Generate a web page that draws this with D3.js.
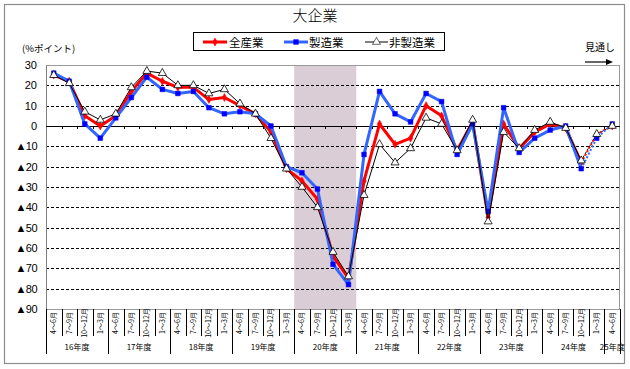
<!DOCTYPE html>
<html><head><meta charset="utf-8">
<script src="https://cdn.jsdelivr.net/npm/d3@7"></script>
<style>
body{margin:0;background:#fff;}
svg{display:block;}
text{font-family:"Liberation Sans",Arial,sans-serif;}
.jp{font-family:"Noto Sans CJK JP","Noto Sans",sans-serif;}
</style></head><body>
<svg id="chart" width="630" height="369"></svg>
<script>
const years = ["16年度","17年度","18年度","19年度","20年度","21年度","22年度","23年度","24年度","25年度"];
const quarters = ["4～6月","7～9月","10～12月","1～3月"];
const yTicks = [30,20,10,0,-10,-20,-30,-40,-50,-60,-70,-80,-90];
const allInd = [25,22,5,0,5,17,26,22,19,19,13,14,10,6,-3,-21,-27,-36,-64,-75,-27,1,-9,-6,10,5,-12,2,-45,1,-11,-3,1,-1,-18,-4,0];
const mfg    = [26,22,1,-6,4,14,24,18,16,17,9,6,7,6,0,-20,-23,-31,-68,-78,-14,17,6,2,16,12,-14,1,-42,9,-13,-6,-2,0,-21,-6,1];
const nonMfg = [25,21,7,3,6,19,27,26,20,20,16,18,11,6,-6,-21,-30,-40,-62,-74,-34,-9,-18,-11,4,1,-12,3,-47,-3,-11,-2,2,-1,-17,-4,0];
const forecastStart = 34; // segments after this index are forecast (dashed)
const shadedYear = "20年度";

const cats = [];
years.forEach((y,i)=>{
  const n = (i===years.length-1)?1:4;
  for(let q=0;q<n;q++) cats.push({year:y, q:quarters[q], id:y+"|"+quarters[q]});
});

const svg = d3.select("#chart");
const L=46,R=620,T=65,B=309;
const x = d3.scaleBand().domain(cats.map(c=>c.id)).range([L,R]).paddingInner(0).paddingOuter(0);
const y = d3.scaleLinear().domain([-90,30]).range([B,T]);
const cx = id => x(id)+x.bandwidth()/2;

// outer frame
svg.append("rect").attr("x",4.5).attr("y",4.5).attr("width",620).attr("height",359)
  .attr("fill","none").attr("stroke","#8c8c8c").attr("stroke-width",1.2);

// shaded region
const sh = cats.filter(c=>c.year===shadedYear);
svg.append("rect").attr("x",x(sh[0].id)).attr("y",T)
  .attr("width",x(sh[sh.length-1].id)+x.bandwidth()-x(sh[0].id)).attr("height",B-T)
  .attr("fill","#dbcdd6");

// gridlines
yTicks.filter(v=>v!==30 && v!==-90 && v!==0).forEach(v=>{
  svg.append("line").attr("x1",L).attr("x2",R).attr("y1",Math.round(y(v))+0.5).attr("y2",Math.round(y(v))+0.5)
    .attr("stroke","#000").attr("stroke-width",1).attr("stroke-dasharray","3,2");
});
// plot frame
svg.append("rect").attr("x",L+0.5).attr("y",T+0.5).attr("width",R-L-1).attr("height",B-T)
  .attr("fill","none").attr("stroke","#9a9a9a").attr("stroke-width",1);
svg.append("line").attr("x1",L+0.5).attr("x2",L+0.5).attr("y1",T).attr("y2",B).attr("stroke","#808080");
// zero line
svg.append("line").attr("x1",L).attr("x2",R).attr("y1",Math.round(y(0))+0.5).attr("y2",Math.round(y(0))+0.5)
  .attr("stroke","#000").attr("stroke-width",1.2);
// zero line ticks
cats.forEach((c,i)=>{ if(i===0) return;
  svg.append("line").attr("x1",Math.round(x(c.id))+0.5).attr("x2",Math.round(x(c.id))+0.5)
    .attr("y1",y(0)).attr("y2",y(0)+3).attr("stroke","#000").attr("stroke-width",1);
});

// y labels
const yAxis = svg.append("g");
yTicks.forEach(v=>{
  yAxis.append("text").attr("x",37).attr("y",y(v)+4).attr("text-anchor","end")
    .attr("font-size",11).attr("fill","#000").attr("letter-spacing",v<0?-0.5:0)
    .text(v<0 ? "▲"+(-v) : String(v));
});

// x label table
const yearStarts = new Set();
cats.forEach((c,i)=>{ if(i===0 || cats[i-1].year!==c.year) yearStarts.add(i); });
cats.forEach((c,i)=>{
  const xx = Math.round(x(c.id))+0.5;
  const long = yearStarts.has(i);
  svg.append("line").attr("x1",xx).attr("x2",xx).attr("y1",B).attr("y2",long?354:336)
    .attr("stroke","#000").attr("stroke-width",1);
  svg.append("text").attr("class","jp").attr("transform",`translate(${cx(c.id)+2.5},323) rotate(-90)`)
    .attr("text-anchor","middle").attr("font-size",7).attr("fill","#000").text(c.q);
});
svg.append("line").attr("x1",R+0.5).attr("x2",R+0.5).attr("y1",B).attr("y2",354).attr("stroke","#000");
years.forEach(yr=>{
  const cs = cats.filter(c=>c.year===yr);
  const mid = (x(cs[0].id)+x(cs[cs.length-1].id)+x.bandwidth())/2;
  svg.append("text").attr("class","jp").attr("x",mid).attr("y",350).attr("text-anchor","middle")
    .attr("font-size",8).attr("fill","#000").text(yr);
});

// series
const series = [
  {name:"全産業", vals:allInd, color:"#ff0000", width:3, marker:"diamond", mfill:"#ff0000", mstroke:"#ff0000", msize:18},
  {name:"製造業", vals:mfg, color:"#3366ff", width:3, marker:"square", mfill:"#0000ff", mstroke:"#0000ff", msize:22},
  {name:"非製造業", vals:nonMfg, color:"#000000", width:1, marker:"triangle", mfill:"#ffffff", mstroke:"#000000", msize:28}
];
const symType = {diamond:d3.symbolDiamond, square:d3.symbolSquare, triangle:d3.symbolTriangle};
series.forEach(s=>{
  const pts = s.vals.map((v,i)=>[cx(cats[i].id), y(v)]);
  const solid = pts.slice(0,forecastStart+1);
  const dash = pts.slice(forecastStart);
  svg.append("path").attr("d",d3.line()(solid)).attr("fill","none").attr("stroke",s.color)
    .attr("stroke-width",s.width).attr("stroke-linejoin","round");
  svg.append("path").attr("d",d3.line()(dash)).attr("fill","none").attr("stroke",s.color)
    .attr("stroke-width",Math.max(1,s.width-1)).attr("stroke-dasharray","2,2");
  pts.forEach(p=>{
    svg.append("path").attr("d",d3.symbol().type(symType[s.marker]).size(s.msize)())
      .attr("transform",`translate(${p[0]},${p[1]})`)
      .attr("fill",s.mfill).attr("stroke",s.mstroke).attr("stroke-width",s.marker==="triangle"?0.8:0.5);
  });
});

// title
svg.append("text").attr("class","jp").attr("x",315).attr("y",21).attr("text-anchor","middle")
  .attr("font-size",15).attr("font-weight",300).attr("fill","#000").text("大企業");

// legend
svg.append("rect").attr("x",193.5).attr("y",32.5).attr("width",251).attr("height",18)
  .attr("fill","#fff").attr("stroke","#000").attr("stroke-width",1);
const lg = [{s:series[0],x1:203,x2:227,tx:229},{s:series[1],x1:284,x2:308,tx:309},{s:series[2],x1:365,x2:388,tx:389}];
lg.forEach(l=>{
  svg.append("line").attr("x1",l.x1).attr("x2",l.x2).attr("y1",42).attr("y2",42)
    .attr("stroke",l.s.color).attr("stroke-width",l.s.width);
  svg.append("path").attr("d",d3.symbol().type(symType[l.s.marker]).size(l.s.msize)())
    .attr("transform",`translate(${(l.x1+l.x2)/2},42)`).attr("fill",l.s.mfill).attr("stroke",l.s.mstroke).attr("stroke-width",0.6);
  svg.append("text").attr("class","jp").attr("x",l.tx).attr("y",46.5).attr("font-size",11.5).attr("fill","#000").text(l.s.name);
});

// units and forecast note
svg.append("text").attr("class","jp").attr("x",22).attr("y",52).attr("font-size",9.5).attr("fill","#000").text("(%ポイント)");
svg.append("text").attr("class","jp").attr("x",585).attr("y",51).attr("font-size",10).attr("fill","#000").text("見通し");
svg.append("line").attr("x1",585).attr("x2",608).attr("y1",62).attr("y2",62).attr("stroke","#000").attr("stroke-width",1.2);
svg.append("path").attr("d","M606,59 L613,62 L606,65 Z").attr("fill","#000");
</script>
</body></html>
